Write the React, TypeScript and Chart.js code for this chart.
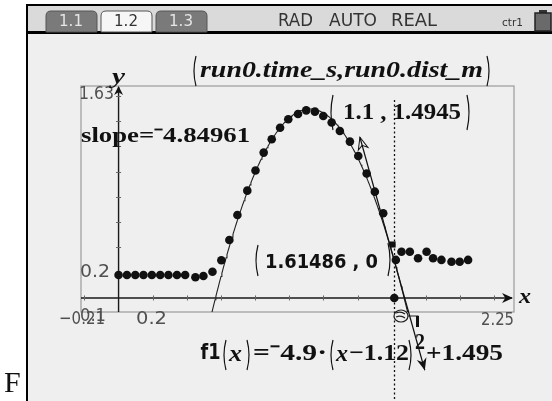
import { useEffect, useRef } from "react";
import { Chart, registerables } from "chart.js";

Chart.register(...registerables);

// run0 samples from the motion detector: time (s) and distance (m)
const timeS = [
  0.0, 0.049, 0.098, 0.146, 0.195, 0.244, 0.292, 0.342, 0.39,
  0.45, 0.497, 0.55, 0.602, 0.649, 0.696, 0.754, 0.802, 0.85, 0.897,
  0.946, 0.994, 1.051, 1.099, 1.15, 1.199, 1.248, 1.296, 1.355, 1.404,
  1.453, 1.501, 1.55, 1.605, 1.624, 1.657, 1.706, 1.754, 1.804, 1.842,
  1.891, 1.95, 1.998, 2.047,
];
const distM = [
  0.182, 0.182, 0.182, 0.182, 0.182, 0.182, 0.182, 0.182, 0.182,
  0.164, 0.174, 0.208, 0.298, 0.459, 0.657, 0.849, 1.009, 1.15, 1.256,
  1.347, 1.414, 1.456, 1.484, 1.474, 1.44, 1.388, 1.321, 1.237, 1.123,
  0.985, 0.841, 0.67, 0.423, 0.301, 0.366, 0.366, 0.314, 0.366, 0.314,
  0.301, 0.287, 0.287, 0.301,
];
const selectedSample = 32;

// hand-fitted model f1(x) = a·(x−h)² + k
const f1A = -4.9;
const f1H = 1.12;
const f1K = 1.495;

// tangent to f1, and the x-range it is drawn over
const tangentX = 1.61486;
const tangentSlope = -4.84961;
const tangentFrom = 1.4135;
const tangentTo = 1.7936;

// graph window
const viewX = [-0.22, 2.316];
const viewY = [-0.111, 1.677];
const tickStep = 0.2;
const xTicksFrom = -0.2;
const xTicksTo = 2.2;
const yTicksFrom = 0.2;
const yTicksTo = 1.6;

const tabs = ["1.1", "1.2", "1.3"];
const activeTab = 1;
const statusWords = ["RAD", "AUTO", "REAL"];

const f1 = (x: number) => f1A * (x - f1H) ** 2 + f1K;
const tangentAt = (x: number) => f1(tangentX) + tangentSlope * (x - tangentX);

const curveXs: number[] = [];
for (let x = viewX[0]; x <= viewX[1]; x += 0.005) curveXs.push(x);

function fitText(
  ctx: CanvasRenderingContext2D,
  text: string,
  left: number,
  cy: number,
  font: string,
  width?: number,
  color = "#000"
) {
  ctx.save();
  ctx.font = font;
  ctx.fillStyle = color;
  ctx.textBaseline = "middle";
  ctx.textAlign = "left";
  const w = ctx.measureText(text).width;
  ctx.translate(left, cy);
  if (width && w > 0) ctx.scale(width / w, 1);
  ctx.fillText(text, 0, 0);
  ctx.restore();
}

function paren(ctx: CanvasRenderingContext2D, x: number, top: number, bottom: number, open: boolean) {
  ctx.save();
  ctx.strokeStyle = "#111";
  ctx.lineWidth = 1.2;
  ctx.beginPath();
  const bulge = open ? -4 : 4;
  ctx.moveTo(x, top);
  ctx.quadraticCurveTo(x + bulge, (top + bottom) / 2, x, bottom);
  ctx.stroke();
  ctx.restore();
}

function arrowHead(ctx: CanvasRenderingContext2D, tipX: number, tipY: number, angle: number, len: number, half: number, fill: boolean) {
  ctx.save();
  ctx.translate(tipX, tipY);
  ctx.rotate(angle);
  ctx.beginPath();
  ctx.moveTo(0, 0);
  ctx.lineTo(-len, -half);
  ctx.lineTo(-len * 0.7, 0);
  ctx.lineTo(-len, half);
  ctx.closePath();
  ctx.fillStyle = "#111";
  ctx.strokeStyle = "#111";
  ctx.lineWidth = 1;
  if (fill) ctx.fill();
  else ctx.stroke();
  ctx.restore();
}

function roundTopRect(ctx: CanvasRenderingContext2D, x: number, y: number, w: number, h: number, r: number) {
  ctx.beginPath();
  ctx.moveTo(x, y + h);
  ctx.lineTo(x, y + r);
  ctx.quadraticCurveTo(x, y, x + r, y);
  ctx.lineTo(x + w - r, y);
  ctx.quadraticCurveTo(x + w, y, x + w, y + r);
  ctx.lineTo(x + w, y + h);
  ctx.closePath();
}

const screenPlugin = {
  id: "screen",
  beforeDraw(chart: any) {
    const ctx: CanvasRenderingContext2D = chart.ctx;
    const { width, height } = chart;
    const area = chart.chartArea;
    ctx.save();
    ctx.fillStyle = "#ffffff";
    ctx.fillRect(0, 0, width, height);

    // handheld screen
    ctx.fillStyle = "#efefef";
    ctx.fillRect(28, 34, width - 28, height - 34);
    ctx.fillStyle = "#dadada";
    ctx.fillRect(28, 6, width - 28, 25);
    ctx.fillStyle = "#000";
    ctx.fillRect(27, 4, width - 27, 2);
    ctx.fillRect(26, 4, 2, height - 4);
    ctx.fillRect(28, 31, width - 28, 3);

    // page tabs
    const tabLefts = [46, 101, 156];
    tabs.forEach((t, i) => {
      const x = tabLefts[i];
      roundTopRect(ctx, x, 11, 51, 21, 5);
      ctx.fillStyle = i === activeTab ? "#f6f6f6" : "#7a7a7a";
      ctx.fill();
      ctx.strokeStyle = "#555";
      ctx.lineWidth = 1;
      ctx.stroke();
      fitText(ctx, t, x + 13, 22, "16px 'DejaVu Sans'", 24, i === activeTab ? "#333" : "#e6e6e6");
    });
    const wordLefts = [278, 329, 391];
    const wordWidths = [35, 48, 46];
    statusWords.forEach((w, i) => fitText(ctx, w, wordLefts[i], 22, "17px 'DejaVu Sans'", wordWidths[i], "#333"));
    fitText(ctx, "ctr1", 502, 23, "10px 'DejaVu Sans'", 21, "#333");
    // battery
    ctx.fillStyle = "#333";
    ctx.fillRect(539, 10, 8, 3);
    ctx.fillStyle = "#6a6a6a";
    ctx.fillRect(535, 13, 16, 18);
    ctx.strokeStyle = "#222";
    ctx.lineWidth = 1.5;
    ctx.strokeRect(535, 13, 16, 18);

    // window frame
    ctx.strokeStyle = "#9a9a9a";
    ctx.lineWidth = 1.2;
    ctx.strokeRect(area.left, area.top, area.right - area.left, area.bottom - area.top);
    ctx.restore();
  },
  beforeDatasetsDraw(chart: any) {
    const ctx: CanvasRenderingContext2D = chart.ctx;
    const xs = chart.scales.x;
    const ys = chart.scales.y;
    const area = chart.chartArea;
    const x0 = xs.getPixelForValue(0);
    const y0 = ys.getPixelForValue(0);
    ctx.save();
    ctx.strokeStyle = "#1a1a1a";
    ctx.lineWidth = 1.4;
    ctx.beginPath();
    ctx.moveTo(area.left, y0);
    ctx.lineTo(area.right - 2, y0);
    ctx.moveTo(x0, area.bottom);
    ctx.lineTo(x0, area.top + 1);
    ctx.stroke();
    arrowHead(ctx, area.right - 1, y0, 0, 11, 5, true);
    arrowHead(ctx, x0, area.top, -Math.PI / 2, 9, 4.5, true);

    ctx.strokeStyle = "#666";
    ctx.lineWidth = 1;
    for (let v = xTicksFrom; v <= xTicksTo + 1e-9; v += tickStep) {
      if (Math.abs(v) < 1e-9) continue;
      const px = Math.round(xs.getPixelForValue(v)) + 0.5;
      ctx.beginPath();
      ctx.moveTo(px, y0 - 2.5);
      ctx.lineTo(px, y0 + 2.5);
      ctx.stroke();
    }
    for (let v = yTicksFrom; v <= yTicksTo + 1e-9; v += tickStep) {
      const py = Math.round(ys.getPixelForValue(v)) + 0.5;
      ctx.beginPath();
      ctx.moveTo(x0 - 2.5, py);
      ctx.lineTo(x0 + 2.5, py);
      ctx.stroke();
    }

    // window labels
    const lab = "18px 'DejaVu Sans'";
    const gray = "#505050";
    fitText(ctx, "1.63", 79, 94, lab, 35, gray);
    fitText(ctx, "0.2", 80, 272, lab, 30, gray);
    fitText(ctx, "−0.21", 59, 319, lab, 46, gray);
    fitText(ctx, "0.1", 80, 316, lab, 26, gray);
    fitText(ctx, "0.2", 136, 319, lab, 31, gray);
    fitText(ctx, "2.25", 481, 320, lab, 33, gray);
    fitText(ctx, "y", 112, 78, "italic bold 21px 'Liberation Serif'", 13, "#111");
    fitText(ctx, "x", 519, 298, "italic bold 21px 'Liberation Serif'", 12, "#111");
    ctx.restore();
  },
  afterDatasetsDraw(chart: any) {
    const ctx: CanvasRenderingContext2D = chart.ctx;
    const xs = chart.scales.x;
    const ys = chart.scales.y;
    ctx.save();

    // vertical trace line through the tangent point
    const vx = Math.round(xs.getPixelForValue(tangentX)) + 0.5;
    ctx.strokeStyle = "#111";
    ctx.lineWidth = 1.3;
    ctx.setLineDash([2, 2.5]);
    ctx.beginPath();
    ctx.moveTo(vx, 100);
    ctx.lineTo(vx, 401);
    ctx.stroke();
    ctx.setLineDash([]);

    // tangent line
    const ax = xs.getPixelForValue(tangentFrom);
    const ay = ys.getPixelForValue(tangentAt(tangentFrom));
    const bx = xs.getPixelForValue(tangentTo);
    const by = ys.getPixelForValue(tangentAt(tangentTo));
    ctx.lineWidth = 1.2;
    ctx.beginPath();
    ctx.moveTo(ax, ay);
    ctx.lineTo(bx, by);
    ctx.stroke();
    const ang = Math.atan2(by - ay, bx - ax);
    arrowHead(ctx, ax, ay, ang + Math.PI, 12, 5, false);
    arrowHead(ctx, bx, by, ang, 12, 5, true);

    // point on the x-axis
    ctx.fillStyle = "#111";
    ctx.beginPath();
    ctx.arc(xs.getPixelForValue(tangentX), ys.getPixelForValue(0), 4.3, 0, Math.PI * 2);
    ctx.fill();

    // grab cursor and handle near the axis
    ctx.strokeStyle = "#222";
    ctx.lineWidth = 1.2;
    ctx.beginPath();
    ctx.moveTo(403, 316);
    ctx.lineTo(418, 316);
    ctx.lineTo(418, 327);
    ctx.stroke();
    ctx.fillRect(416, 316, 3, 11);
    ctx.beginPath();
    ctx.ellipse(401, 316, 7, 6, 0, 0, Math.PI * 2);
    ctx.fillStyle = "#efefef";
    ctx.fill();
    ctx.stroke();
    ctx.beginPath();
    ctx.moveTo(396, 313);
    ctx.quadraticCurveTo(401, 311, 405, 314);
    ctx.moveTo(396, 317);
    ctx.quadraticCurveTo(401, 315, 405, 318);
    ctx.stroke();

    // title
    paren(ctx, 196, 56, 86, true);
    fitText(ctx, "run0.time_s,run0.dist_m", 200, 71, "italic bold 23px 'Liberation Serif'", 283, "#111");
    paren(ctx, 487, 56, 86, false);

    // slope readout
    fitText(ctx, "slope=⁻4.84961", 81, 137, "bold 21px 'Liberation Serif'", 169, "#111");

    // traced point
    paren(ctx, 333, 95, 130, true);
    fitText(ctx, "1.1 , 1.4945", 343, 113, "bold 24px 'Liberation Serif'", 118, "#111");
    paren(ctx, 467, 95, 130, false);

    // x-intercept point
    paren(ctx, 258, 245, 276, true);
    fitText(ctx, "1.61486 , 0", 265, 263, "bold 19px 'DejaVu Sans'", 113, "#111");
    paren(ctx, 388, 243, 276, false);

    // function definition
    const serifB = "bold 23px 'Liberation Serif'";
    const serifBI = "italic bold 23px 'Liberation Serif'";
    fitText(ctx, "f1", 200.5, 354, "bold 21px 'DejaVu Sans'", 20, "#111");
    paren(ctx, 226, 340, 370, true);
    fitText(ctx, "x", 229, 355, serifBI, 13, "#111");
    paren(ctx, 247, 340, 370, false);
    fitText(ctx, "=⁻4.9·", 253, 354, serifB, 74, "#111");
    paren(ctx, 333, 340, 370, true);
    fitText(ctx, "x", 336, 355, serifBI, 12, "#111");
    fitText(ctx, "−1.12", 349, 354, serifB, 60, "#111");
    paren(ctx, 409, 340, 370, false);
    fitText(ctx, "2", 415, 343, serifB, 10, "#111");
    fitText(ctx, "+1.495", 426, 354, serifB, 77, "#111");

    // clipped glyph to the left of the screen
    ctx.save();
    ctx.beginPath();
    ctx.rect(0, 340, 26, 61);
    ctx.clip();
    fitText(ctx, "F", 4, 384, "30px 'Liberation Serif'", undefined, "#111");
    ctx.restore();

    ctx.restore();
  },
};

export default function App() {
  const canvasRef = useRef<HTMLCanvasElement | null>(null);

  useEffect(() => {
    const canvas = canvasRef.current;
    if (!canvas) return;
    const chart = new Chart(canvas, {
      type: "scatter",
      data: {
        datasets: [
          {
            label: "run0.dist_m",
            data: timeS.map((t, i) => ({ x: t, y: distM[i] })),
            pointRadius: 4.3,
            pointHoverRadius: 4.3,
            pointStyle: timeS.map((_, i) => (i === selectedSample ? "rect" : "circle")),
            backgroundColor: "#111",
            borderColor: "#111",
            borderWidth: 0,
            showLine: false,
            order: 1,
          },
          {
            label: "f1",
            data: curveXs.map((x) => ({ x, y: f1(x) })),
            showLine: true,
            pointRadius: 0,
            borderColor: "#222",
            borderWidth: 1.1,
            tension: 0,
            order: 2,
          },
        ],
      },
      options: {
        animation: false,
        responsive: false,
        devicePixelRatio: 1,
        events: [],
        layout: { padding: { left: 81, right: 38, top: 86, bottom: 89 } },
        plugins: { legend: { display: false }, tooltip: { enabled: false } },
        scales: {
          x: { type: "linear", min: viewX[0], max: viewX[1], display: false },
          y: { type: "linear", min: viewY[0], max: viewY[1], display: false },
        },
      },
      plugins: [screenPlugin],
    });
    return () => chart.destroy();
  }, []);

  return (
    <div style={{ position: "fixed", left: 0, top: 0, width: 552, height: 401 }}>
      <canvas ref={canvasRef} width={552} height={401} />
    </div>
  );
}
